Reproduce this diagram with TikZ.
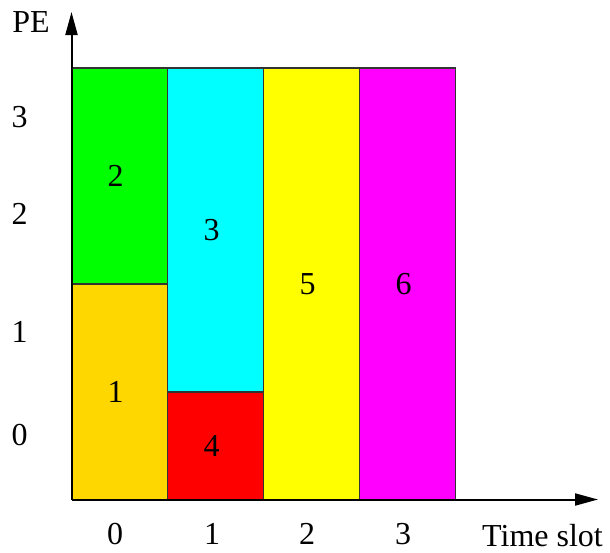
\documentclass[tikz,border=0pt]{standalone}
\usepackage{fontspec}
\setmainfont{Liberation Serif}
\usetikzlibrary{arrows.meta}
\definecolor{cgold}{HTML}{FFD700}
\definecolor{cgreen}{HTML}{00FF00}
\definecolor{ccyan}{HTML}{00FFFF}
\definecolor{cred}{HTML}{FF0000}
\definecolor{cyellow}{HTML}{FFFF00}
\definecolor{cmagenta}{HTML}{FF00FF}
\definecolor{boxline}{HTML}{333333}
\newcommand{\tasklabel}[1]{\hspace*{-4pt}#1}
\begin{document}
\begin{tikzpicture}[x=0.5pt,y=-0.5pt,
  task/.style={draw=boxline, line width=0.75pt, inner sep=0pt, outer sep=0pt,
    minimum width=48pt, font=\fontsize{16}{19}\selectfont},
  lbl/.style={font=\fontsize{16}{19}\selectfont, inner sep=0pt},
  axis/.style={line width=1pt, -{Triangle[length=11.5pt,width=6pt]}}]
\useasboundingbox (0,0) rectangle (610,552);
% tasks
\node[task, fill=cgold,    minimum height=107.75pt] (t1) at (119.5,391.75) {\tasklabel{1}};
\node[task, fill=cgreen,   minimum height=108pt]    (t2) at (119.5,176)    {\tasklabel{2}};
\node[task, fill=ccyan,    minimum height=162pt]    (t3) at (215.5,230)    {\tasklabel{3}};
\node[task, fill=cred,     minimum height=53.75pt]  (t4) at (215.5,445.75) {\tasklabel{4}};
\node[task, fill=cyellow,  minimum height=215.75pt] (t5) at (311.5,283.75) {\tasklabel{5}};
\node[task, fill=cmagenta, minimum height=215.75pt] (t6) at (407.5,283.75) {\tasklabel{6}};
% axes
\coordinate (O) at (71.5,499.5);
\coordinate (ytip) at (71.5,12);
\coordinate (xtip) at (598,499.5);
\draw[axis] (O) -- (ytip);
\draw[axis] (O) -- (xtip);
% axis labels
\node[lbl] (pe) at (31,22) {PE};
\node[lbl] (ts) at (542.5,536) {Time slot};
\node[lbl] (y3) at (19.5,117) {3};
\node[lbl] (y2) at (19.5,214) {2};
\node[lbl] (y1) at (19.5,332) {1};
\node[lbl] (y0) at (19.5,435) {0};
\node[lbl] (x0) at (115,534) {0};
\node[lbl] (x1) at (212,534) {1};
\node[lbl] (x2) at (307,534) {2};
\node[lbl] (x3) at (403,534) {3};
\end{tikzpicture}
\end{document}
